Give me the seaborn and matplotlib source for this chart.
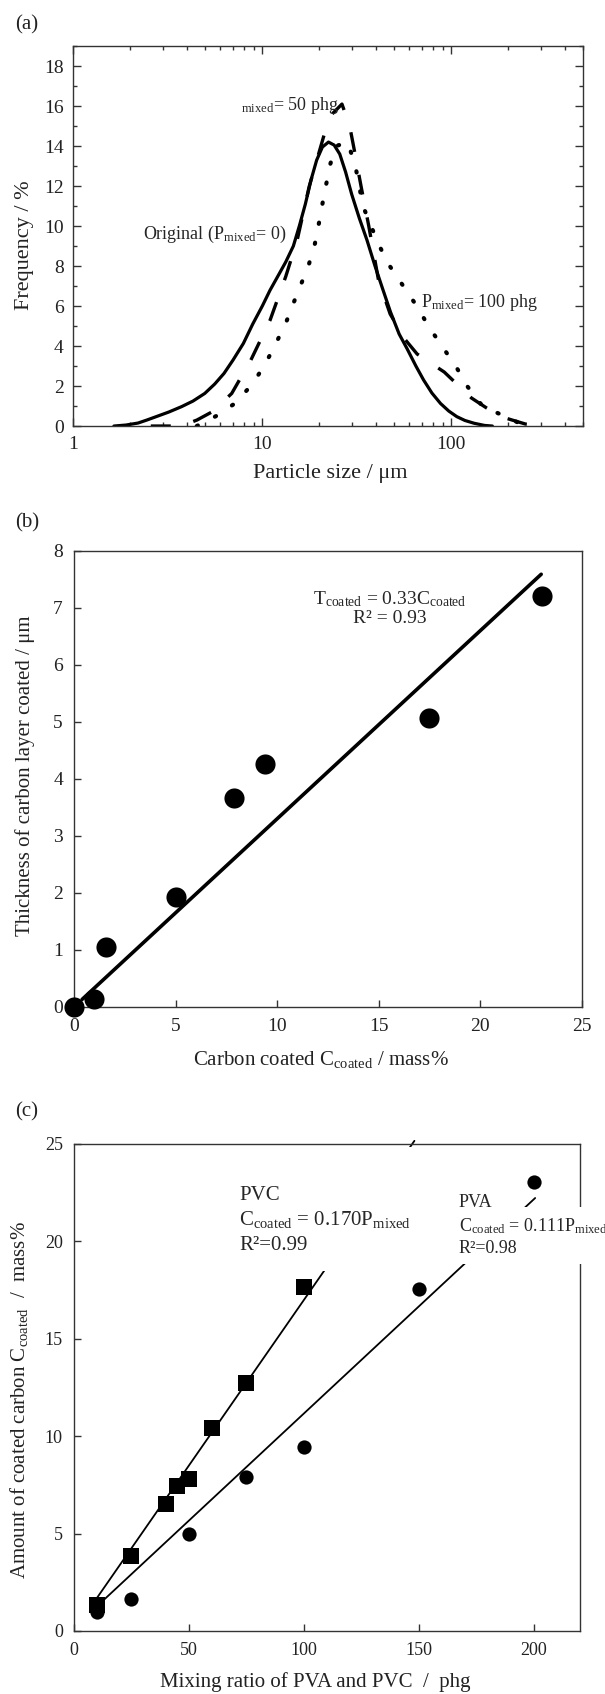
import numpy as np
import pandas as pd
import matplotlib
matplotlib.use('Agg')
import matplotlib.pyplot as plt
from matplotlib.patches import Rectangle
from matplotlib.ticker import LogLocator, MultipleLocator, FixedLocator, FixedFormatter, NullFormatter
import seaborn as sns

# (a) particle size distributions
size_orig = [1.64, 1.9, 2.2, 2.45, 2.8, 3.2, 3.74, 4.3, 4.96, 5.6, 6.27, 7.0, 7.94, 8.9, 10.0,
             11.0, 12.1, 13.3, 14.6, 15.7, 16.9, 18.1, 19.4, 20.8, 22.4, 24.0, 25.7, 27.6, 29.7,
             32.6, 35.8, 39.5, 43.2, 47.7, 53, 58.5, 65, 71.4, 79, 87.7, 97, 107, 118, 132, 150, 165]
freq_orig = [0, 0.05, 0.15, 0.3, 0.5, 0.7, 0.97, 1.25, 1.63, 2.1, 2.63, 3.3, 4.13, 5.1, 6.0,
             6.8, 7.5, 8.2, 9.0, 10.0, 11.1, 12.3, 13.3, 13.95, 14.2, 14.05, 13.6, 12.7, 11.6,
             10.4, 9.3, 8.0, 6.9, 5.7, 4.6, 3.85, 3.0, 2.3, 1.65, 1.13, 0.75, 0.47, 0.28, 0.14, 0.03, 0]
size_50 = [2.57, 3.73, 4.51, 5.45, 6.89, 8.7, 11.0, 13.3, 15.3, 17.7, 21.3, 23.4, 26.4, 29.0,
           30.4, 33.3, 36.6, 41.2, 47.5, 57.3, 66, 91.8, 128, 154, 186, 247, 312]
freq_50 = [0, 0, 0.3, 0.72, 1.63, 3.3, 5.3, 7.47, 9.3, 11.97, 14.6, 15.6, 16.1, 15.0,
           14.0, 12.0, 10.0, 7.3, 5.6, 4.3, 3.6, 2.7, 1.4, 0.9, 0.45, 0.1, 0]
size_100 = [4.5, 5.7, 7.16, 8.93, 10.5, 11.8, 13.3, 14.6, 16.1, 17.7, 19.0, 19.9, 20.8, 21.8,
            22.9, 24.6, 28.3, 31.1, 34.1, 38.4, 42.2, 47.5, 56, 66, 76, 89.7, 106, 122, 147, 186, 247]
freq_100 = [0, 0.5, 1.13, 2.13, 3.2, 4.13, 5.13, 6.13, 7.13, 8.13, 9.13, 10.1, 11.1, 12.1,
            13.1, 14.0, 14.2, 13.0, 11.0, 9.8, 8.9, 7.97, 6.97, 5.97, 4.97, 3.97, 2.97, 1.97, 0.97, 0.55, 0]

# (b) thickness vs carbon content
carbon_pct = [0.0, 0.97, 1.6, 5.0, 7.9, 9.4, 17.5, 23.05]
thickness = [0.0, 0.14, 1.05, 1.92, 3.66, 4.26, 5.06, 7.21]
thick_slope = 0.33
thick_fit_x = [0.4, 23.0]

# (c) coated carbon vs mixing ratio
pvc_ratio = [10, 25, 40, 45, 50, 60, 75, 100]
pvc_carbon = [1.35, 3.85, 6.5, 7.45, 7.8, 10.4, 12.75, 17.65]
pva_ratio = [10, 25, 50, 75, 100, 150, 200]
pva_carbon = [1.0, 1.65, 5.0, 7.9, 9.45, 17.55, 23.05]
pvc_slope, pvc_icept, pvc_fit_x = 0.170, 0.0, [9.8, 148.0]
pva_slope, pva_icept, pva_fit_x = 0.110, 0.17, [9.8, 200.5]

sns.set_style('ticks')
plt.rcParams['font.family'] = ['Liberation Serif', 'DejaVu Serif']
plt.rcParams['mathtext.fontset'] = 'custom'
plt.rcParams['mathtext.rm'] = 'Liberation Serif'
plt.rcParams['mathtext.it'] = 'Liberation Serif:italic'
plt.rcParams['mathtext.bf'] = 'Liberation Serif:bold'
plt.rcParams['axes.edgecolor'] = '#333333'
plt.rcParams['axes.linewidth'] = 1.0
plt.rcParams['xtick.color'] = '#333333'
plt.rcParams['ytick.color'] = '#333333'
plt.rcParams['xtick.labelcolor'] = '#222222'
plt.rcParams['ytick.labelcolor'] = '#222222'

SUB = r'$_{\mathrm{%s}}$'

fig = plt.figure(figsize=(6.05, 16.94), dpi=100)


def place_labels(ax, xl, yl, xpos, ypos, size):
    ax.set_xlabel(xl, fontsize=size, color='#222222')
    ax.set_ylabel(yl, fontsize=size, color='#222222')
    ax.xaxis.set_label_coords(*xpos)
    ax.yaxis.set_label_coords(*ypos)
    ax.xaxis.label.set_va('center')
    ax.yaxis.label.set_va('center')


# ---------- (a) ----------
ax_a = fig.add_axes([0.1212, 0.7485, 0.843, 0.2243])
ax_a.set_xscale('log')
sns.lineplot(x=size_orig, y=freq_orig, ax=ax_a, color='black', lw=2.3,
             sort=False, estimator=None)
sns.lineplot(x=size_50, y=freq_50, ax=ax_a, color='black', lw=2.4,
             sort=False, estimator=None, linestyle=(0, (6, 7)))
sns.lineplot(x=size_100, y=freq_100, ax=ax_a, color='black', lw=3.0,
             sort=False, estimator=None, linestyle=(0, (0.3, 4.6)))
ax_a.lines[-1].set_dash_capstyle('round')
ax_a.set_xlim(1, 500)
ax_a.set_ylim(0, 19)
ax_a.xaxis.set_major_locator(FixedLocator([1, 10, 100]))
ax_a.xaxis.set_major_formatter(FixedFormatter(['1', '10', '100']))
ax_a.xaxis.set_minor_locator(LogLocator(base=10, subs=np.arange(2, 10)))
ax_a.xaxis.set_minor_formatter(NullFormatter())
ax_a.yaxis.set_major_locator(MultipleLocator(2))
ax_a.yaxis.set_minor_locator(MultipleLocator(1))
ax_a.tick_params(which='both', direction='in', top=True, right=True, labelsize=14, pad=7)
ax_a.tick_params(which='major', length=6, width=1)
ax_a.tick_params(which='minor', length=3, width=1)
ax_a.text(7.7, 15.8, SUB % 'mixed' + '= 50 phg', fontsize=13, ha='left', va='baseline')
ax_a.text(2.33, 9.6, 'Original (P' + SUB % 'mixed' + '= 0)', fontsize=13, ha='left', va='center')
ax_a.text(69, 6.2, 'P' + SUB % 'mixed' + '= 100 phg', fontsize=13, ha='left', va='center')
place_labels(ax_a, 'Particle size / μm', 'Frequency / %', (0.503, -0.124), (-0.095, 0.476), 16)

# ---------- (b) ----------
ax_b = fig.add_axes([0.1223, 0.4056, 0.8394, 0.2692])
fit_b = np.array(thick_fit_x)
sns.lineplot(x=fit_b, y=thick_slope * fit_b, ax=ax_b, color='black', lw=2.6,
             sort=False, estimator=None)
sns.scatterplot(x=carbon_pct, y=thickness, ax=ax_b, s=210, color='black',
                edgecolor='black', linewidth=0, clip_on=False, zorder=4)
ax_b.set_xlim(0, 25)
ax_b.set_ylim(0, 8)
ax_b.xaxis.set_major_locator(MultipleLocator(5))
ax_b.yaxis.set_major_locator(MultipleLocator(1))
ax_b.tick_params(direction='in', length=5, width=1, labelsize=14, pad=8)
ax_b.text(15.55, 7.16, 'T' + SUB % 'coated' + ' = 0.33C' + SUB % 'coated',
          fontsize=14, ha='center', va='center')
ax_b.text(15.55, 6.82, 'R² = 0.93', fontsize=14, ha='center', va='center')
place_labels(ax_b, 'Carbon coated C' + SUB % 'coated' + ' / mass%',
             'Thickness of carbon layer coated / μm', (0.486, -0.116), (-0.0965, 0.507), 15)

# ---------- (c) ----------
ax_c = fig.add_axes([0.1223, 0.0372, 0.8364, 0.2875])
fit_pvc = np.array(pvc_fit_x)
fit_pva = np.array(pva_fit_x)
sns.lineplot(x=fit_pvc, y=pvc_slope * fit_pvc + pvc_icept, ax=ax_c, color='black', lw=1.3,
             sort=False, estimator=None, clip_on=False, zorder=2)
sns.lineplot(x=fit_pva, y=pva_slope * fit_pva + pva_icept, ax=ax_c, color='black', lw=1.3,
             sort=False, estimator=None, clip_on=False, zorder=2)
sns.scatterplot(x=pvc_ratio, y=pvc_carbon, ax=ax_c, marker='s', s=120, color='black',
                edgecolor='black', linewidth=0, clip_on=False, zorder=4)
sns.scatterplot(x=pva_ratio, y=pva_carbon, ax=ax_c, marker='o', s=105, color='black',
                edgecolor='black', linewidth=0, clip_on=False, zorder=4)
# white text boxes hiding the trend lines, as in the original figure
ax_c.add_patch(Rectangle((70, 18.5), 77.3, 6.35, facecolor='white', edgecolor='none', zorder=3))
ax_c.add_patch(Rectangle((165.8, 18.85), 66, 2.92, facecolor='white', edgecolor='none',
                         zorder=3, clip_on=False))
ax_c.set_xlim(0, 220)
ax_c.set_ylim(0, 25)
ax_c.xaxis.set_major_locator(FixedLocator([0, 50, 100, 150, 200]))
ax_c.yaxis.set_major_locator(MultipleLocator(5))
ax_c.tick_params(direction='in', length=5, width=1, labelsize=13, pad=8)
ax_c.text(71.8, 22.1, 'PVC', fontsize=15, ha='left', va='baseline', zorder=5)
ax_c.text(71.8, 20.84, 'C' + SUB % 'coated' + ' = 0.170P' + SUB % 'mixed', fontsize=15,
          ha='left', va='baseline', zorder=5)
ax_c.text(71.8, 19.56, 'R²=0.99', fontsize=15, ha='left', va='baseline', zorder=5)
ax_c.text(167.2, 21.77, 'PVA', fontsize=13, ha='left', va='baseline', zorder=5)
ax_c.text(167.2, 20.5, 'C' + SUB % 'coated' + ' = 0.111P' + SUB % 'mixed', fontsize=13,
          ha='left', va='baseline', zorder=5, clip_on=False)
ax_c.text(167.2, 19.4, 'R²=0.98', fontsize=13, ha='left', va='baseline', zorder=5)
place_labels(ax_c, 'Mixing ratio of PVA and PVC  /  phg',
             'Amount of coated carbon C' + SUB % 'coated' + '  /  mass%',
             (0.476, -0.105), (-0.109, 0.474), 15)

for lab, ypix in [('(a)', 25), ('(b)', 523), ('(c)', 1112)]:
    fig.text(15 / 605, 1 - ypix / 1694, lab, fontsize=15, ha='left', va='center', color='#222222')

for ax in (ax_a, ax_b, ax_c):
    ax.set_facecolor('white')

fig.savefig('out.png', dpi=100, facecolor='white')
